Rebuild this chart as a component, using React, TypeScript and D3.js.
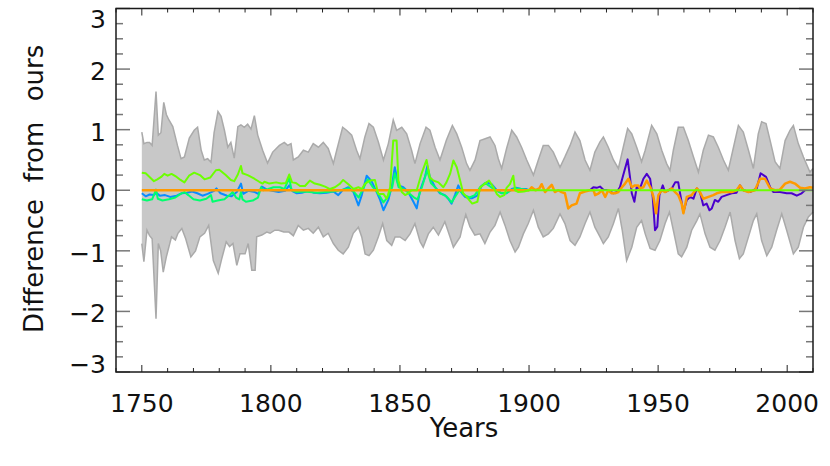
import React from 'react';
import * as d3 from 'd3';

type P = [number, number];

// Gray uncertainty band (year, value)
const bandUpper: P[] = [
  [1750, 0.96], [1750.8, 0.77], [1752, 0.79], [1753, 0.79], [1754, 0.74], [1755.5, 1.63], [1756.4, 0.91],
  [1757.4, 0.95], [1758.5, 1.45], [1759.5, 1.25], [1760.5, 1.16], [1762, 1.05], [1763.8, 0.74], [1765.2, 0.52],
  [1766.5, 0.55], [1768.4, 0.86], [1770.3, 0.99], [1771.6, 1.04], [1773, 0.66], [1774.2, 0.5], [1775.5, 0.52],
  [1776.8, 0.46], [1778, 0.95], [1779.5, 1.3], [1780.7, 1.22], [1782, 0.99], [1783.3, 0.71], [1784.5, 0.79],
  [1785.8, 0.53], [1787.2, 1.05], [1788.4, 1.08], [1789.7, 1.04], [1791, 1.09], [1792.3, 1.01], [1793.6, 1.23],
  [1794.9, 0.91], [1796.8, 0.66], [1798.7, 0.45], [1800.7, 0.63], [1803.3, 0.74], [1805.2, 0.79], [1806.5, 0.74],
  [1807.8, 0.77], [1808.7, 0.5], [1810.6, 0.55], [1812.6, 0.66], [1814.5, 0.63], [1816.4, 0.77], [1818.4, 0.71],
  [1820.3, 0.79], [1822.2, 0.69], [1824.2, 0.44], [1825.5, 0.66], [1827.8, 1.04], [1829.3, 0.99], [1831.3, 0.91],
  [1833.2, 0.66], [1834.5, 0.52], [1836.4, 0.88], [1838, 1.1], [1839.7, 1.04], [1841.6, 0.8], [1843.6, 0.5],
  [1845.5, 0.77], [1847.4, 1.16], [1848.7, 0.99], [1850.7, 1.04], [1852.6, 0.93], [1854.5, 0.66], [1855.8, 0.44],
  [1857.8, 0.77], [1860.1, 1.04], [1861.6, 0.99], [1863.6, 0.71], [1865.5, 0.5], [1868, 0.83], [1870.3, 1.07],
  [1872, 0.93], [1873.9, 0.71], [1875.8, 0.44], [1877.1, 0.33], [1879.1, 0.5], [1881, 0.82], [1883, 0.85],
  [1884.9, 0.88], [1886.8, 0.74], [1888.1, 0.52], [1889.4, 0.36], [1891.3, 0.69], [1893.3, 0.99], [1895.2, 0.88],
  [1897.1, 0.71], [1899.1, 0.5], [1901.7, 0.25], [1903.6, 0.5], [1905.5, 0.74], [1907.5, 0.74], [1909.4, 0.63],
  [1912, 0.38], [1913.9, 0.55], [1915.9, 0.74], [1917.8, 0.96], [1919.7, 0.82], [1921.7, 0.5], [1923.6, 0.33],
  [1925.5, 0.63], [1927.5, 0.8], [1928.8, 0.88], [1930.7, 0.71], [1932.7, 0.5], [1934.6, 0.36], [1936.5, 0.71],
  [1938.2, 1.02], [1939.8, 0.93], [1941.7, 0.71], [1943.6, 0.47], [1945, 0.66], [1947.5, 1.07], [1949.5, 0.93],
  [1951.4, 0.66], [1953.3, 0.44], [1954.6, 0.33], [1955.9, 0.66], [1957.8, 1.04], [1959.8, 1.04], [1961.7, 0.82],
  [1963.7, 0.55], [1965.6, 0.3], [1967.5, 0.66], [1969.5, 0.91], [1971.4, 0.88], [1973.3, 0.71], [1975.3, 0.5],
  [1977.2, 0.33], [1979.2, 0.71], [1981.1, 1.07], [1983, 0.96], [1985, 0.66], [1986.9, 0.36], [1988.8, 0.93],
  [1990.1, 1.13], [1991.8, 1.1], [1993.4, 0.82], [1995.3, 0.47], [1997.2, 0.36], [1999.2, 0.82], [2001.1, 0.99],
  [2002.4, 1.07], [2004.3, 0.77], [2006.3, 0.55], [2008.8, 0.3], [2010, 0.36],
];

const bandLower: P[] = [
  [1750, -0.88], [1750.8, -1.18], [1752, -0.66], [1753, -0.75], [1754, -0.8], [1755.5, -2.12], [1756.4, -0.88],
  [1757.3, -1.0], [1758.3, -1.35], [1759.5, -1.1], [1761.5, -0.77], [1763, -0.82], [1764, -0.71], [1765.5, -0.63],
  [1767, -0.8], [1769, -1.1], [1770.8, -1.0], [1772.5, -0.77], [1774.3, -0.71], [1775.9, -0.58], [1777.7, -1.16],
  [1779.6, -1.37], [1780.9, -1.14], [1782.7, -0.85], [1784, -0.93], [1785.3, -0.88], [1786.8, -1.24], [1788, -1.05],
  [1790, -1.05], [1791.2, -0.88], [1792.6, -1.32], [1793.9, -1.32], [1794.5, -0.77], [1796.5, -0.74], [1798.4, -0.69],
  [1799.7, -0.71], [1801.5, -0.66], [1803, -0.66], [1805, -0.69], [1807, -0.69], [1808.7, -0.75], [1810.6, -0.58],
  [1812.6, -0.66], [1814.5, -0.63], [1816.4, -0.71], [1818.4, -0.61], [1820.3, -0.77], [1822.2, -0.71], [1824.2, -0.88],
  [1826.1, -0.99], [1828, -1.05], [1830, -0.94], [1831.9, -0.71], [1833.9, -0.61], [1835.2, -0.77], [1836.5, -1.05],
  [1838, -1.08], [1839.7, -0.99], [1841.6, -0.77], [1843.3, -0.55], [1844.9, -0.83], [1846.8, -0.91], [1848.1, -0.77],
  [1850, -0.77], [1852, -0.83], [1853.9, -0.72], [1855.8, -0.55], [1857.8, -0.85], [1859, -0.94], [1861, -0.72],
  [1862.9, -0.61], [1864.9, -0.74], [1867.4, -0.52], [1869.4, -0.77], [1870.7, -0.94], [1873.3, -0.77], [1874.2, -0.6],
  [1875.5, -0.4], [1877.1, -0.6], [1879, -0.74], [1881, -0.72], [1882.9, -0.88], [1884.9, -0.69], [1886.8, -0.58],
  [1888.8, -0.36], [1890.7, -0.58], [1892.6, -0.83], [1894.6, -1.02], [1895.9, -0.94], [1897.8, -0.72], [1899.7, -0.55],
  [1901.7, -0.33], [1903.6, -0.61], [1905.5, -0.77], [1907.5, -0.72], [1909.4, -0.63], [1912, -0.39], [1913.9, -0.55],
  [1915.9, -0.83], [1917.8, -0.91], [1919.7, -0.77], [1921.7, -0.55], [1923.6, -0.36], [1925.5, -0.61], [1927.5, -0.77],
  [1928.8, -0.88], [1930.7, -0.77], [1932.7, -0.55], [1934.6, -0.3], [1936.1, -0.66], [1937.8, -1.16], [1939.8, -0.94],
  [1941.7, -0.61], [1943.6, -0.5], [1945, -0.72], [1946.9, -0.96], [1948.8, -0.99], [1950.7, -0.83], [1952.7, -0.55],
  [1954.4, -0.36], [1955.9, -0.66], [1957.8, -1.05], [1959.1, -1.1], [1961.1, -0.94], [1963, -0.66], [1965, -0.5],
  [1966.2, -0.39], [1968.2, -0.72], [1970.1, -0.94], [1972, -0.99], [1974, -0.83], [1975.9, -0.61], [1977.9, -0.36],
  [1979.8, -0.83], [1981.5, -1.13], [1983, -1.05], [1985, -0.77], [1986.9, -0.5], [1988.2, -0.39], [1990.1, -0.83],
  [1992.1, -1.08], [1994, -0.94], [1995.9, -0.66], [1997.9, -0.39], [1999.8, -0.66], [2002.4, -1.05], [2004.3, -0.94],
  [2006.3, -0.61], [2008.2, -0.44], [2010, -0.36],
];

const limeSeries: P[] = [
  [1750, 0.29], [1751.5, 0.28], [1753, 0.22], [1754.7, 0.15], [1756, 0.18], [1757.5, 0.22], [1758.7, 0.27],
  [1760, 0.24], [1761.5, 0.27], [1763.5, 0.22], [1765, 0.17], [1766.5, 0.13], [1768.3, 0.24], [1770.3, 0.29],
  [1772.5, 0.25], [1774.3, 0.18], [1776.5, 0.21], [1778.7, 0.33], [1780, 0.34], [1782.5, 0.25], [1784.5, 0.17],
  [1785.8, 0.15], [1787.2, 0.26], [1788.4, 0.4], [1789, 0.28], [1791, 0.25], [1793.6, 0.19], [1795.5, 0.14],
  [1796.8, 0.11], [1797.5, 0.14], [1799.4, 0.11], [1802, 0.13], [1804, 0.11], [1805.8, 0.12], [1807.1, 0.26],
  [1808.2, 0.13], [1809.7, 0.12], [1811.3, 0.07], [1813.2, 0.07], [1815.1, 0.16], [1817, 0.11], [1819, 0.09],
  [1821, 0.06], [1822.9, 0.02], [1824.8, 0.05], [1826.8, 0.11], [1828, 0.17], [1830, 0.1], [1832, 0.02],
  [1833.9, 0.05], [1835.2, 0.02], [1836.5, 0.11], [1838.4, 0.16], [1840.3, 0.17], [1841.6, -0.06], [1843.6, -0.06],
  [1844.9, -0.14], [1846.2, 0.05], [1847.4, 0.82], [1848.7, 0.82], [1849.4, 0.16], [1850.7, -0.03], [1852, -0.08],
  [1853.2, -0.05], [1854.5, 0.0], [1856.5, 0.0], [1858.4, 0.28], [1860.3, 0.5], [1861.6, 0.21], [1862.9, 0.16],
  [1864.9, 0.13], [1866.8, 0.05], [1868, 0.13], [1869.4, 0.27], [1870.7, 0.49], [1872, 0.38], [1873.3, 0.16],
  [1874.5, -0.05], [1875.8, -0.11], [1877, -0.17], [1878, -0.22], [1880, -0.19], [1881, 0.04], [1883, 0.11],
  [1884.5, 0.16], [1886.2, 0.05], [1887.5, -0.06], [1888.8, -0.11], [1890.4, -0.08], [1891.3, 0.04], [1892.6, 0.1],
  [1893.9, 0.24], [1894.6, 0.0], [1895.9, -0.03], [1898, -0.02], [1900, 0], [2010, 0],
];

const blueSeries: P[] = [
  [1750, -0.05], [1751.5, -0.1], [1753, -0.07], [1754.7, -0.08], [1755.6, -0.04], [1757, -0.09], [1759, -0.08],
  [1761, -0.11], [1763.5, -0.09], [1765.5, -0.05], [1767.5, -0.04], [1769.5, -0.02], [1771.5, -0.05], [1773.5, -0.09],
  [1775.5, -0.06], [1778, -0.01], [1778.9, 0.03], [1780.5, -0.05], [1783, -0.09], [1784.8, -0.1], [1786.8, -0.03],
  [1788.4, 0.11], [1789.3, -0.06], [1791.2, -0.01], [1793.8, -0.03], [1795.1, -0.06], [1796.5, 0.06], [1798.5, 0.01],
  [1800.5, -0.01], [1803, -0.03], [1805.5, -0.01], [1807.1, 0.08], [1808.5, -0.02], [1810, -0.05], [1812, -0.04],
  [1814.5, -0.01], [1816.5, -0.04], [1819, -0.05], [1821.6, -0.04], [1824.2, -0.02], [1826.1, -0.08], [1828, 0.01],
  [1830, 0.05], [1832, -0.03], [1833.9, -0.25], [1835.2, -0.08], [1837.1, 0.24], [1839, 0.15], [1841, -0.03],
  [1842.3, -0.16], [1843.6, -0.33], [1845.5, -0.16], [1846.8, 0.06], [1848, 0.38], [1849.4, 0.08], [1851.3, 0.05],
  [1853.2, -0.03], [1855.2, -0.19], [1856.5, -0.3], [1857.8, 0.0], [1859.7, 0.22], [1860.6, 0.4], [1861.6, 0.22],
  [1863.6, 0.05], [1865.5, -0.05], [1867.4, -0.08], [1868.7, -0.14], [1870, -0.22], [1871.3, -0.08], [1872.6, 0.08],
  [1874, -0.05], [1875.2, -0.11], [1876.5, -0.13], [1878, -0.13], [1880, -0.09], [1881.6, 0.07], [1883.6, 0.13],
  [1885.5, 0.1], [1887.5, 0.0], [1889.4, -0.05], [1891.3, -0.05], [1893.3, 0.02], [1895, 0.04], [1897, 0.02],
  [1899, 0.02], [1900, 0],
];

const springSeries: P[] = [
  [1750, -0.15], [1752, -0.17], [1754, -0.15], [1755.5, 0.01], [1756.2, -0.14], [1758, -0.17], [1760.5, -0.15],
  [1763, -0.12], [1765, -0.06], [1766.5, -0.03], [1768, -0.08], [1770, -0.15], [1772.5, -0.17], [1775, -0.14],
  [1776.8, -0.08], [1777.4, -0.19], [1779.4, -0.17], [1782, -0.15], [1784, -0.08], [1785.2, -0.03], [1786.5, -0.12],
  [1787.8, -0.15], [1788.4, -0.03], [1789, -0.15], [1790.3, -0.19], [1793, -0.17], [1795, -0.12], [1796.2, 0.05],
  [1797, 0.0], [1799, 0.02], [1801, 0.05], [1803.5, 0.05], [1805.2, 0.02], [1807.1, 0.2], [1808, 0.0], [1810, -0.03],
  [1812, -0.02], [1815, -0.03], [1818, -0.04], [1821, -0.03], [1824, -0.02], [1827, 0.0], [1830, 0.03], [1832, -0.02],
  [1834, -0.12], [1836, 0.05], [1837.5, 0.18], [1839.5, 0.05], [1841.5, -0.05], [1843.6, -0.2], [1845.5, -0.1],
  [1847, 0.05], [1848, 0.28], [1849.5, 0.05], [1851.5, 0.02], [1853.5, -0.05], [1855.5, -0.12], [1856.8, -0.15],
  [1858.5, 0.05], [1860.5, 0.33], [1862, 0.12], [1864, 0.03], [1866, -0.06], [1868, -0.1], [1870, -0.2],
  [1871.5, -0.1], [1873, 0.0], [1875, -0.08], [1877, -0.12], [1879, -0.08], [1881, 0.05], [1883, 0.12], [1885, 0.06],
  [1887, 0.0], [1889, -0.04], [1891, -0.05], [1893, 0.0], [1895, 0.03], [1897, 0.02], [1900, 0],
];

const orangeSeries: P[] = [
  [1750, 0], [1900, 0], [1901, 0.05], [1902.5, 0.0], [1904, 0.03], [1904.9, 0.1], [1906.2, -0.03], [1907.5, 0.03],
  [1908.8, 0.09], [1910, -0.03], [1911.3, 0.0], [1912.6, -0.03], [1913.9, -0.05], [1915.2, -0.3], [1916.5, -0.25],
  [1918.4, -0.22], [1919.7, -0.05], [1921.6, -0.02], [1923.6, 0.0], [1925, 0.0], [1925.6, -0.08], [1927, -0.05],
  [1928.2, 0.0], [1929.5, -0.11], [1930.7, 0.0], [1932, -0.05], [1933.3, -0.05], [1934.6, -0.03], [1936, 0.05],
  [1937.2, 0.11], [1938.5, 0.19], [1939.8, 0.05], [1941, 0.08], [1942.3, 0.08], [1943, 0.03], [1944.3, 0.05],
  [1945.6, 0.16], [1947, 0.05], [1948.2, -0.11], [1949.2, -0.38], [1950.1, -0.08], [1951.4, 0.0], [1952.7, -0.03],
  [1954, 0.0], [1955.3, 0.03], [1956.6, -0.03], [1957.8, -0.08], [1959.1, -0.22], [1959.8, -0.38], [1961.1, -0.11],
  [1963, -0.08], [1965, 0.03], [1966.2, -0.03], [1967.5, -0.14], [1969.5, -0.11], [1971.4, -0.08], [1972.7, -0.05],
  [1974.6, -0.03], [1976.5, -0.03], [1978.5, -0.03], [1980.4, 0.0], [1981.7, 0.08], [1983, 0.0], [1985, -0.03],
  [1987.5, 0.0], [1989.5, 0.19], [1991.4, 0.19], [1993.4, 0.03], [1995.3, 0.0], [1997.2, 0.01], [1999.2, 0.11],
  [2001.1, 0.14], [2003, 0.11], [2005, 0.04], [2006.9, 0.03], [2008.8, 0.05], [2010, 0.04],
];

const purpleSeries: P[] = [
  [1923.6, 0.0], [1924.9, 0.05], [1926.2, 0.04], [1927.5, 0.06], [1928.8, 0.01], [1930.7, 0.0], [1932.7, -0.05],
  [1934, -0.03], [1935.2, 0.05], [1936.5, 0.25], [1938.2, 0.51], [1939.1, 0.22], [1939.8, -0.05], [1940.8, -0.19],
  [1941.7, 0.05], [1943, 0.03], [1944.3, 0.19], [1945.6, 0.27], [1946.9, 0.19], [1947.9, -0.11], [1948.8, -0.66],
  [1949.7, -0.6], [1950.5, -0.08], [1951.8, 0.08], [1952.7, -0.03], [1954, 0.0], [1955.3, 0.03], [1956.6, 0.13],
  [1957.8, 0.13], [1958.5, -0.05], [1959.8, -0.36], [1961.1, -0.16], [1962.4, -0.11], [1963.7, -0.14], [1965, 0.03],
  [1966.2, -0.03], [1967.5, -0.25], [1968.8, -0.22], [1969.9, -0.33], [1970.8, -0.3], [1972, -0.16], [1973.3, -0.19],
  [1974.6, -0.11], [1976.5, -0.08], [1978.5, -0.05], [1980.4, -0.04], [1981.7, 0.08], [1983, 0.0], [1985.6, -0.03],
  [1988.2, 0.03], [1989.7, 0.28], [1991.8, 0.22], [1993.4, 0.05], [1994.6, -0.03], [1997.2, -0.03], [1999.8, -0.05],
  [2001.7, -0.05], [2003.7, -0.09], [2005.6, -0.05], [2006.9, 0.0],
];

const xTickLabels = [1750, 1800, 1850, 1900, 1950, 2000];
const yTickLabels = [-3, -2, -1, 0, 1, 2, 3];

const FONT = "'DejaVu Sans', sans-serif";

export default function App() {
  const W = 830, H = 466;
  const left = 116, right = 813, top = 8.5, bottom = 372;
  const x = d3.scaleLinear().domain([1740, 2010]).range([left, right]);
  const y = d3.scaleLinear().domain([-3, 3]).range([bottom, top]);
  const line = d3.line<P>().x(d => x(d[0])).y(d => y(d[1]));
  const bandPoly = line(bandUpper.concat(bandLower.slice().reverse())) + 'Z';

  const xMinor = d3.range(1740, 2011, 10);
  const yMinor = d3.range(-3, 3.001, 0.25);

  const series: { data: P[]; color: string; w: number }[] = [
    { data: blueSeries, color: '#0a8cff', w: 2 },
    { data: springSeries, color: '#00ff6e', w: 2 },
    { data: purpleSeries, color: '#4a00cc', w: 2 },
    { data: orangeSeries, color: '#ff9a00', w: 2.5 },
    { data: limeSeries, color: '#6cff00', w: 2 },
  ];

  const textProps = { fontFamily: FONT, fontSize: 25, fill: '#111' } as const;

  return (
    <svg width={W} height={H} style={{ position: 'absolute', left: 0, top: 0, background: '#fff' }}>
      <path d={bandPoly} fill="#c8c8c8" stroke="none" />
      <path d={line(bandUpper) || ''} fill="none" stroke="#aaaaaa" strokeWidth={1.5} />
      <path d={line(bandLower) || ''} fill="none" stroke="#aaaaaa" strokeWidth={1.5} />
      {series.map((s, i) => (
        <path key={i} d={line(s.data) || ''} fill="none" stroke={s.color} strokeWidth={s.w} strokeLinejoin="round" />
      ))}
      {yMinor.map((v, i) => {
        const major = Math.abs(v - Math.round(v)) < 1e-6;
        const len = major ? 14 : 7;
        const yy = y(v);
        return (
          <g key={'yt' + i}>
            <line x1={left} x2={left + len} y1={yy} y2={yy} stroke="#777" strokeWidth={1.5} />
            <line x1={right} x2={right - len} y1={yy} y2={yy} stroke="#777" strokeWidth={1.5} />
          </g>
        );
      })}
      {xMinor.map((v, i) => {
        const major = v % 50 === 0;
        const len = major ? 7 : 4;
        const xx = x(v);
        return (
          <g key={'xt' + i}>
            <line x1={xx} x2={xx} y1={bottom} y2={bottom - len} stroke="#222" strokeWidth={1} />
            <line x1={xx} x2={xx} y1={top} y2={top + len} stroke="#222" strokeWidth={1} />
          </g>
        );
      })}
      <rect x={left} y={top} width={right - left} height={bottom - top} fill="none" stroke="#1a1a1a" strokeWidth={1.5} />
      {xTickLabels.map(v => (
        <text key={'xl' + v} x={x(v)} y={412} textAnchor="middle" {...textProps}>{v}</text>
      ))}
      {yTickLabels.map(v => {
        const cy = Math.max(18.5, Math.min(364, y(v) + 2));
        return (
          <text key={'yl' + v} x={106} y={cy + 9} textAnchor="end" {...textProps}>
            {v < 0 ? '\u2212' + Math.abs(v) : String(v)}
          </text>
        );
      })}
      <text x={464} y={437} textAnchor="middle" {...textProps} fontSize={26}>Years</text>
      <g transform="translate(43,190) rotate(-90)">
        <text x={-76} y={0} textAnchor="middle" {...textProps} fontSize={26}>Difference</text>
        <text x={38} y={0} textAnchor="middle" {...textProps} fontSize={26}>from</text>
        <text x={117} y={0} textAnchor="middle" {...textProps} fontSize={26}>ours</text>
      </g>
    </svg>
  );
}
